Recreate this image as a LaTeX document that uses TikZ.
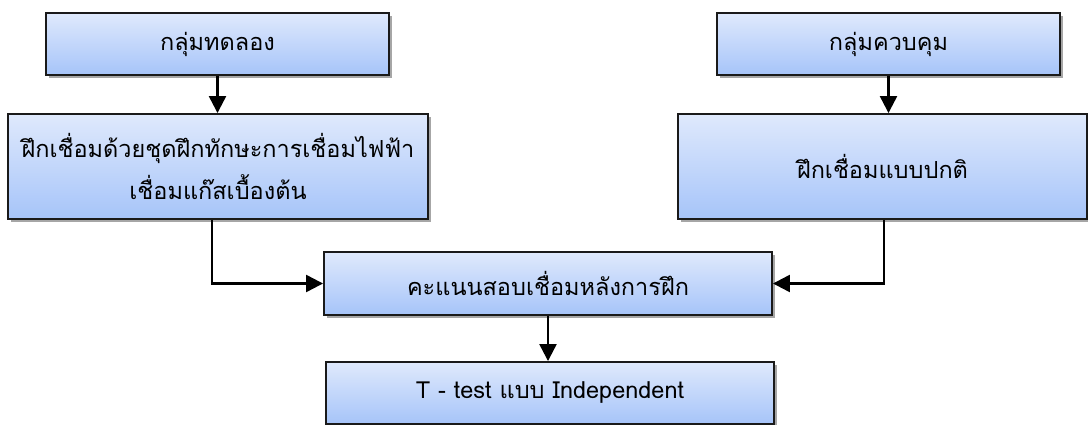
\documentclass[tikz,border=0pt]{standalone}
\usepackage{fontspec}
\setmainfont[Script=Thai]{Loma}
\usetikzlibrary{shadows,arrows.meta}
\definecolor{boxtop}{HTML}{DFE9FC}
\definecolor{boxbot}{HTML}{A6C4F9}
\definecolor{edge}{HTML}{1A1A1A}
\tikzset{
  flowbox/.style={draw=edge, line width=1.9pt, inner sep=0pt, align=center,
    top color=boxtop, bottom color=boxbot, font=\fontsize{23.5}{42}\selectfont,
    drop shadow={shadow xshift=2.5pt, shadow yshift=-3pt, opacity=0.35, fill=black}},
  arr/.style={line width=2.3pt, draw=black, -{Triangle[length=17pt,width=17pt]}},
}
\begin{document}
\begin{tikzpicture}[x=1pt,y=-1pt]
\useasboundingbox (0,0) rectangle (1088,425);
\node[flowbox, minimum width=343pt, minimum height=62pt] (A) at (217.5,44) {กลุ่มทดลอง};
\node[flowbox, minimum width=420pt, minimum height=105pt] (B) at (218,166.5) {ฝึกเชื่อมด้วยชุดฝึกทักษะการเชื่อมไฟฟ้า\\เชื่อมแก๊สเบื้องต้น};
\node[flowbox, minimum width=343pt, minimum height=62pt] (C) at (888.5,44) {กลุ่มควบคุม};
\node[flowbox, minimum width=409pt, minimum height=105pt] (D) at (882.5,166.5) {ฝึกเชื่อมแบบปกติ};
\node[flowbox, minimum width=448pt, minimum height=63pt] (E) at (548,283.5) {คะแนนสอบเชื่อมหลังการฝึก};
\node[flowbox, minimum width=448pt, minimum height=62pt] (F) at (550,393) {T - test แบบ Independent};
\draw[arr] (A.south) -- (A.south |- B.north);
\draw[arr] (C.south) -- (C.south |- D.north);
\draw[arr] ([xshift=-6pt]B.south) |- (E.west);
\draw[arr] ([xshift=1.5pt]D.south) |- (E.east);
\draw[arr] (E.south) -- (E.south |- F.north);
\end{tikzpicture}
\end{document}
